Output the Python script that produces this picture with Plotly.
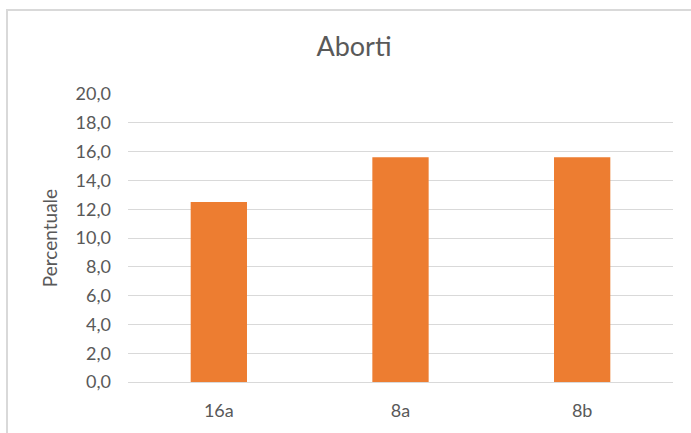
import plotly.graph_objects as go

categorie = ['16a', '8a', '8b']
percentuali = [12.5, 15.6, 15.6]
tick_vals = [0, 2, 4, 6, 8, 10, 12, 14, 16, 18, 20]
tick_text = ['0,0', '2,0', '4,0', '6,0', '8,0', '10,0', '12,0', '14,0', '16,0', '18,0', '20,0']

W, H = 691, 433
ml, mr, mt, mb = 128, 18, 94, 48
pw, ph = W - ml - mr, H - mt - mb

def px_x(p):
    return (p - ml) / pw

def px_y(p):
    return (H - mb - p) / ph

fig = go.Figure([
    go.Bar(
        x=categorie,
        y=percentuali,
        marker=dict(color='#ED7D31', line=dict(width=0)),
        width=0.31,
    )
])

fig.update_layout(
    width=W,
    height=H,
    margin=dict(l=ml, r=mr, t=mt, b=mb),
    paper_bgcolor='white',
    plot_bgcolor='white',
    font=dict(family="Lato, 'Open Sans', sans-serif", color='#595959', size=18),
    title=dict(
        text='Aborti',
        x=354 / W,
        xanchor='center',
        y=1 - 47 / H,
        yanchor='middle',
        font=dict(size=27, color='#595959'),
    ),
    showlegend=False,
    shapes=[
        dict(
            type='path',
            xref='paper', yref='paper',
            path=f'M {px_x(7)},{px_y(440)} L {px_x(7)},{px_y(9)} L {px_x(700)},{px_y(9)}',
            line=dict(color='#d9d9d9', width=2),
        )
    ],
)

fig.update_xaxes(
    showgrid=False,
    showline=True,
    linecolor='#d9d9d9',
    ticks='',
    ticklabelstandoff=12,
    tickfont=dict(size=18, color='#595959'),
)

fig.update_yaxes(
    range=[0, 20],
    tickvals=tick_vals,
    ticktext=tick_text,
    showgrid=True,
    gridcolor='#d9d9d9',
    gridwidth=1,
    zeroline=False,
    showline=False,
    ticks='',
    ticklabelstandoff=16,
    tickfont=dict(size=18, color='#595959'),
    title=dict(text='Percentuale', font=dict(size=19, color='#595959'), standoff=12),
)

fig.write_html('out.html', config={'displayModeBar': False},
               post_script="document.body.style.margin='0px';")
